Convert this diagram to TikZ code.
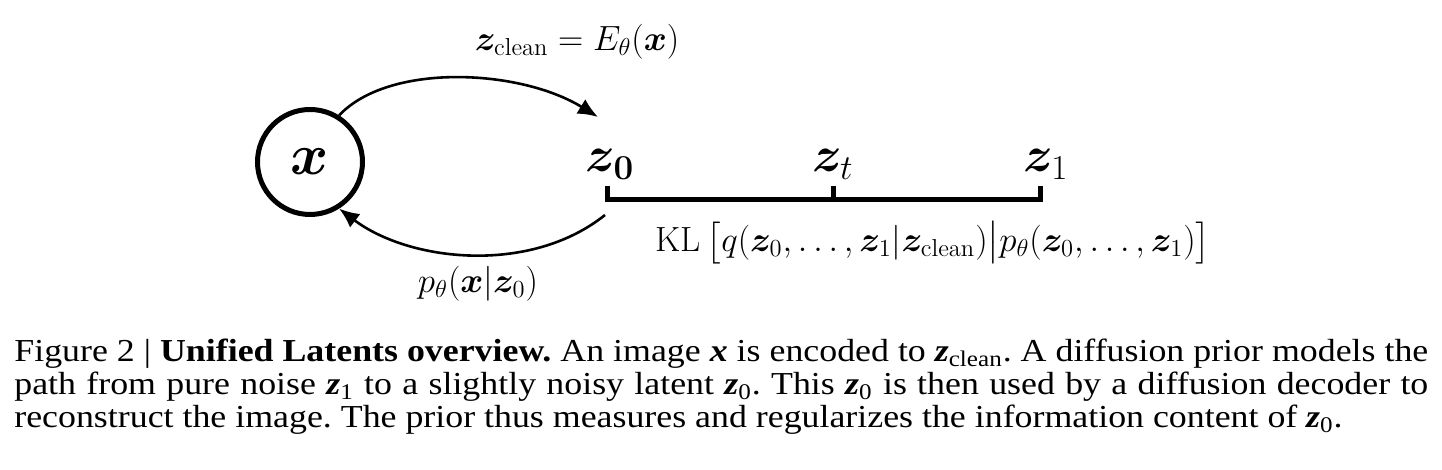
\RequirePackage{fix-cm}
\documentclass[tikz,border=0pt]{standalone}
\usepackage{amsmath,amssymb,bm}
\usepackage{fontspec}
\newfontfamily\captionfont[FakeStretch=1.12]{Liberation Serif}
\usetikzlibrary{arrows.meta,positioning,calc}

\newcommand{\capz}{\textbf{\textit{z}}}

\begin{document}
\begin{tikzpicture}[
    x=0.5pt, y=0.5pt,
    datanode/.style={circle, draw=black, line width=2.5pt, minimum size=52.5pt, inner sep=0pt, font=\fontsize{29}{34}\selectfont},
    latentlbl/.style={inner sep=0pt, font=\fontsize{25}{30}\selectfont},
    mathlbl/.style={inner sep=0pt, font=\fontsize{17.5}{21}\selectfont},
    captext/.style={inner sep=0pt, text width=707pt, align=justify, font=\captionfont\fontsize{16}{16.5}\selectfont\frenchspacing},
    axis/.style={line width=2.5pt, draw=black},
    arc/.style={-{Latex[length=10pt,width=8.5pt]}, line width=1.3pt, draw=black}
]
    \useasboundingbox (0,0) rectangle (1442,470);

    % Data and latent path
    \node[datanode] (img) at (310,308) {$\bm{x}$};
    \coordinate (t0) at (607,270);
    \coordinate (tt) at (833,270);
    \coordinate (t1) at (1040,270);
    \node[latentlbl, anchor=base] (z0) at (610,298) {$\bm{z_0}$};
    \node[latentlbl, anchor=base] (zt) at (833,298) {$\bm{z}_t$};
    \node[latentlbl, anchor=base] (z1) at (1046,298) {$\bm{z}_1$};
    \draw[axis] ($(t0)+(0,14)$) -- (t0) -- (t1) -- ($(t1)+(0,14)$);
    \draw[axis] (tt) -- ($(tt)+(0,14)$);

    % Encoder and decoder
    \coordinate (encin) at (598,353);
    \coordinate (decout) at (605,255);
    \draw[arc] (img.58) .. controls +(50,53) and +(-78,48) .. (encin);
    \draw[arc] (decout) .. controls +(-75,-60) and +(70,-53) .. (img.-58);

    % Labels
    \node[mathlbl] (enclbl) at (577,428) {$\bm{z}_{\mathrm{clean}} = E_\theta(\bm{x})$};
    \node[mathlbl] (declbl) at (478,186) {$p_\theta(\bm{x}|\bm{z}_0)$};
    \node[mathlbl] (kllbl) at (933,227) {$\mathrm{KL}\,\bigl[q(\bm{z}_0,\ldots,\bm{z}_1|\bm{z}_{\mathrm{clean}})\big|p_\theta(\bm{z}_0,\ldots,\bm{z}_1)\bigr]$};

    % Caption
    \node[captext, anchor=north west] (cap) at (14,131) {\lineskiplimit=-20pt Figure 2 | \textbf{Unified Latents overview.} An image \textbf{\textit{x}} is encoded to \capz\textsubscript{clean}. A diffusion prior models the\linebreak path from pure noise \capz\textsubscript{1} to a slightly noisy latent \capz\textsubscript{0}. This \capz\textsubscript{0} is then used by a diffusion decoder to\linebreak reconstruct the image. The prior thus measures and regularizes the information content of \capz\textsubscript{0}.};

\end{tikzpicture}
\end{document}
